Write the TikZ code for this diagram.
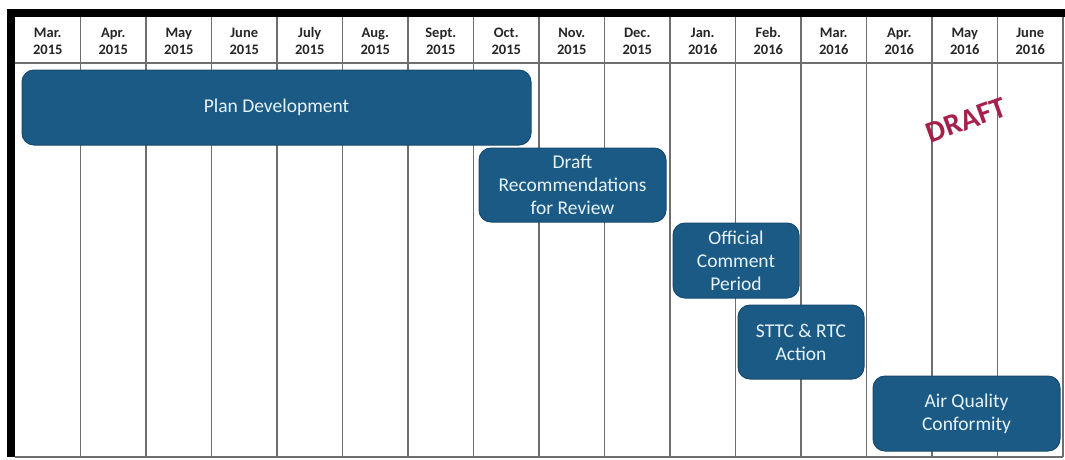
\documentclass[tikz,border=0pt]{standalone}
\usepackage{fontspec}
\setmainfont{Carlito}
\usetikzlibrary{positioning}
\definecolor{barblue}{HTML}{1C5A86}
\definecolor{barline}{HTML}{164A6E}
\definecolor{bartext}{HTML}{E6F3FA}
\definecolor{gridgray}{HTML}{6E6E6E}
\definecolor{draftred}{HTML}{A6204A}
\tikzset{
    month/.style = {font=\bfseries\fontsize{14.5}{17}\selectfont, text=black!85, align=center, inner sep=0pt},
    task/.style = {draw=barline, fill=barblue, rounded corners=12pt, line width=1pt,
                 text=bartext, align=center, inner sep=0pt, font=\fontsize{19.5}{23}\selectfont},
}

\begin{document}
\begin{tikzpicture}[x=1pt,y=-1pt]
 \fill[white] (0,0) rectangle (1065,459);
 \useasboundingbox (0,0) rectangle (1065,459);
 % frame and grid
 \fill[black] (7,9) rectangle (1065,17);
 \fill[black] (7,9) rectangle (15,457);
 \foreach \i in {1,...,16}
   \draw[gridgray, line width=1.3pt] (15+65.5*\i,17) -- (15+65.5*\i,457);
 \draw[gridgray, line width=1.3pt] (15,63) -- (1063,63);
 \draw[gridgray, line width=1.3pt] (15,457) -- (1063,457);

 % months
 \foreach \m/\yr [count=\i from 0] in {Mar./2015, Apr./2015, May/2015, June/2015, July/2015,
     Aug./2015, Sept./2015, Oct./2015, Nov./2015, Dec./2015, Jan./2016, Feb./2016,
     Mar./2016, Apr./2016, May/2016, June/2016}
   \node (m\i) [month] at (47.75+65.5*\i, 41) {\m\\\yr};

 % tasks
 \node (n1) [task, minimum width=509pt, minimum height=75pt] at (276.5,107.5) {Plan Development};
 \node (n2) [task, minimum width=187pt, minimum height=74pt] at (572.5,185) {Draft\\Recommendations\\for Review};
 \node (n3) [task, minimum width=126pt, minimum height=75pt] at (736,260.5) {Official\\Comment\\Period};
 \node (n4) [task, minimum width=126pt, minimum height=74pt] at (801,342) {STTC \& RTC\\Action};
 \node (n5) [task, minimum width=187pt, minimum height=75pt] at (966.5,413.5) {Air Quality\\Conformity};

 \node (draft) [font=\bfseries\fontsize{30}{32}\selectfont, text=draftred, rotate=20] at (966,120) {DRAFT};
\end{tikzpicture}
\end{document}
